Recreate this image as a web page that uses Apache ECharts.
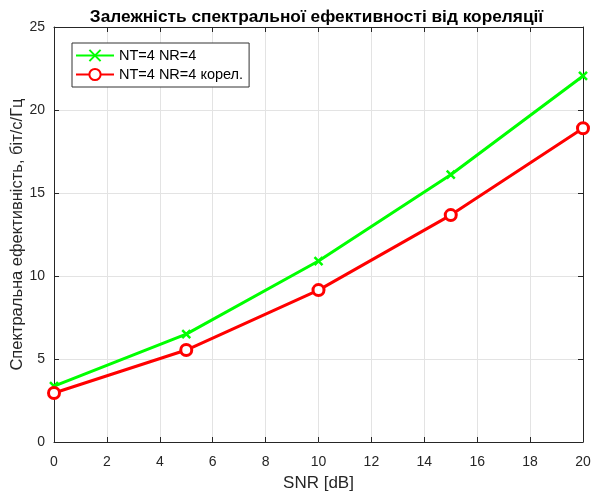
<!DOCTYPE html>
<html><head><meta charset="utf-8">
<script src="https://cdn.jsdelivr.net/npm/echarts@6/dist/echarts.min.js"></script>
<style>html,body{margin:0;padding:0;background:#fff}#c{width:591px;height:494px}</style>
</head><body><div id="c"></div>
<script>
const snr = [0, 5, 10, 15, 20];
const seUncorr = [3.37, 6.5, 10.9, 16.1, 22.05];
const seCorr = [2.95, 5.54, 9.15, 13.67, 18.9];
const seriesNames = ['NT=4 NR=4', 'NT=4 NR=4 корел.'];
const titleText = 'Залежність спектральної ефективності від кореляції';
const xName = 'SNR [dB]';
const yName = 'Спектральна ефективність, біт/с/Гц';

const chart = echarts.init(document.getElementById('c'));
const font = 'Liberation Sans, Arial, sans-serif';
const axisCol = '#262626';
const gridLeft = 54, gridTop = 27, gridW = 529, gridH = 415;
const sideAxis = {
  axisLine: { show: true, onZero: false, lineStyle: { color: axisCol, width: 1 } },
  axisTick: { show: true, inside: true, length: 5, lineStyle: { color: axisCol } },
  axisLabel: { show: false }, splitLine: { show: false }
};
chart.setOption({
  animation: false,
  backgroundColor: '#fff',
  textStyle: { fontFamily: font },
  title: {
    text: titleText, left: gridLeft + gridW / 2 - 7, textAlign: 'center', top: 4,
    textStyle: { fontSize: 17.3, fontWeight: 'bold', color: '#000', fontFamily: font }
  },
  legend: {
    orient: 'vertical', left: 72, top: 43, itemGap: 4,
    padding: [5, 6, 5, 3],
    borderColor: '#333', borderWidth: 1, backgroundColor: '#fff',
    itemWidth: 38, itemHeight: 14,
    textStyle: { fontSize: 14.5, color: '#000', fontFamily: font },
    data: seriesNames
  },
  grid: { left: gridLeft, top: gridTop, width: gridW, height: gridH, containLabel: false, outerBoundsMode: 'none' },
  xAxis: [{
    type: 'value', min: 0, max: 20, interval: 2,
    name: xName, nameLocation: 'middle', nameGap: 33, nameMoveOverlap: false,
    nameTextStyle: { fontSize: 17, color: axisCol },
    axisLine: { show: true, onZero: false, lineStyle: { color: axisCol, width: 1 } },
    axisTick: { show: true, inside: true, length: 5, lineStyle: { color: axisCol } },
    axisLabel: { fontSize: 14, color: axisCol, margin: 13 },
    splitLine: { show: true, lineStyle: { color: '#e3e3e3', width: 1 } }
  }, Object.assign({ type: 'value', min: 0, max: 20, interval: 2, position: 'top' }, sideAxis)],
  yAxis: [{
    type: 'value', min: 0, max: 25, interval: 5,
    name: yName, nameLocation: 'middle', nameGap: 28, nameMoveOverlap: false,
    nameTextStyle: { fontSize: 16.5, color: axisCol },
    axisLine: { show: true, onZero: false, lineStyle: { color: axisCol, width: 1 } },
    axisTick: { show: true, inside: true, length: 5, lineStyle: { color: axisCol } },
    axisLabel: { fontSize: 14, color: axisCol, margin: 9 },
    splitLine: { show: true, lineStyle: { color: '#e3e3e3', width: 1 } }
  }, Object.assign({ type: 'value', min: 0, max: 25, interval: 5, position: 'right' }, sideAxis)],
  series: [{
    name: seriesNames[0], type: 'line',
    data: snr.map((x, i) => [x, seUncorr[i]]),
    lineStyle: { color: '#00ff00', width: 3 },
    itemStyle: { color: '#00ff00', borderColor: '#00ff00', borderWidth: 2.5 },
    symbol: 'path://M-1,-1L1,1M1,-1L-1,1', symbolSize: 8,
    showAllSymbol: true
  }, {
    name: seriesNames[1], type: 'line',
    data: snr.map((x, i) => [x, seCorr[i]]),
    lineStyle: { color: '#ff0000', width: 3 },
    itemStyle: { color: '#fff', borderColor: '#ff0000', borderWidth: 3 },
    symbol: 'circle', symbolSize: 11,
    showAllSymbol: true
  }]
});
</script></body></html>
